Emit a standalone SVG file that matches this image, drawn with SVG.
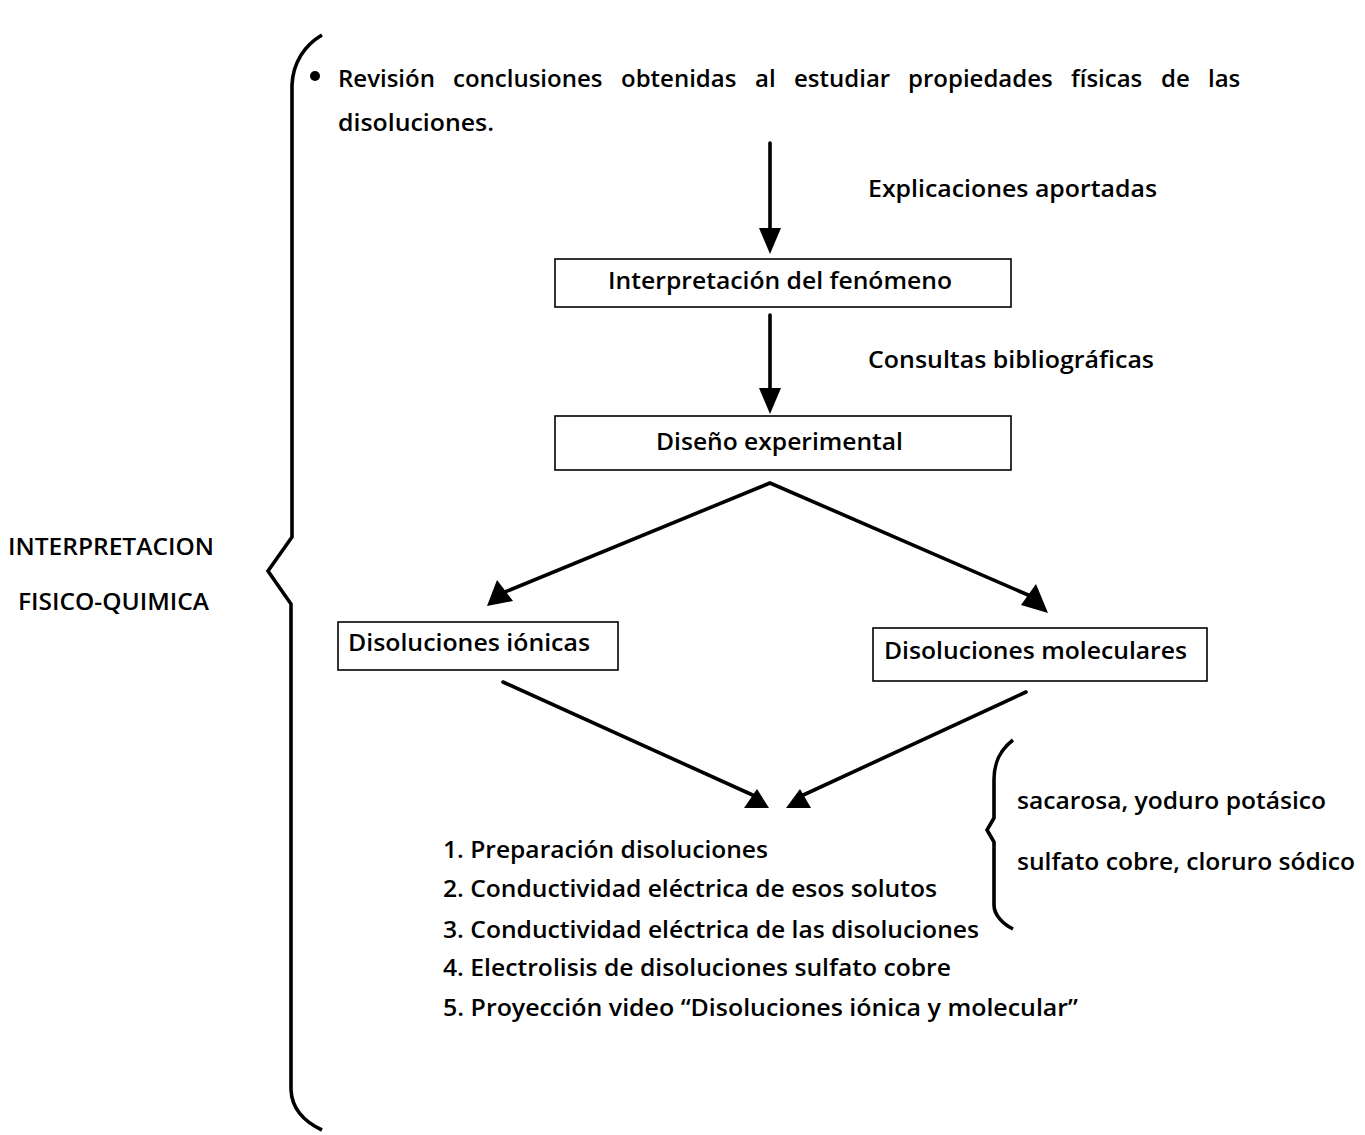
<svg xmlns="http://www.w3.org/2000/svg" width="1365" height="1135" viewBox="0 0 1365 1135">
  <style>
    text { font-family: "Open Sans", "Noto Sans", "Liberation Sans", sans-serif; font-weight: 600; font-size: 22.5px; fill: #000; }
    .lead { font-size: 24px; }
    .box { fill: #fff; stroke: #000; stroke-width: 1.6; }
    .edge { stroke: #000; stroke-width: 3.6; fill: none; stroke-linecap: round; }
    .brace { stroke: #000; stroke-width: 3.6; fill: none; stroke-linejoin: miter; }
    .head { fill: #000; }
  </style>

  <!-- left brace grouping the whole sequence -->
  <g id="main-brace">
    <path class="brace" d="M322,35 C305,45 293,62 292,85 L292,537 L268,571 L291,604 L291,1090 C292,1110 305,1122 322,1130"/>
    <text x="8" y="555" textLength="206" lengthAdjust="spacingAndGlyphs" font-size="20">INTERPRETACION</text>
    <text x="18" y="610" textLength="191" lengthAdjust="spacingAndGlyphs" font-size="20">FISICO-QUIMICA</text>
  </g>

  <!-- opening statement, justified line -->
  <g id="intro">
    <circle cx="315" cy="76" r="5"/>
    <text class="lead" y="87"><tspan x="338">Revisión</tspan> <tspan x="453">conclusiones</tspan> <tspan x="621">obtenidas</tspan> <tspan x="755">al</tspan> <tspan x="794">estudiar</tspan> <tspan x="908">propiedades</tspan> <tspan x="1071">físicas</tspan> <tspan x="1161">de</tspan> <tspan x="1208">las</tspan></text>
    <text class="lead" x="338" y="131" textLength="156" lengthAdjust="spacingAndGlyphs">disoluciones.</text>
  </g>

  <!-- connectors -->
  <g id="connectors">
    <line class="edge" x1="770" y1="143" x2="770" y2="232"/>
    <polygon class="head" points="759,228 781,228 770,254"/>
    <text x="868" y="197" textLength="289" lengthAdjust="spacingAndGlyphs">Explicaciones aportadas</text>

    <line class="edge" x1="770" y1="315" x2="770" y2="392"/>
    <polygon class="head" points="759,388 781,388 770,414"/>
    <text x="868" y="368" textLength="286" lengthAdjust="spacingAndGlyphs">Consultas bibliográficas</text>

    <polyline class="edge" points="500,594 770,483 1035,598"/>
    <polygon class="head" points="487,606 497,580 513,601"/>
    <polygon class="head" points="1048,613 1021,605 1036,584"/>

    <line class="edge" x1="503" y1="682" x2="757" y2="797"/>
    <polygon class="head" points="744,808 769,808 757,789"/>
    <line class="edge" x1="1026" y1="692" x2="799" y2="797"/>
    <polygon class="head" points="786,808 811,808 800,789"/>
  </g>

  <g id="interpretacion">
    <rect class="box" x="555" y="259" width="456" height="48"/>
    <text x="608" y="289" textLength="344" lengthAdjust="spacingAndGlyphs">Interpretación del fenómeno</text>
  </g>

  <g id="diseno">
    <rect class="box" x="555" y="416" width="456" height="54"/>
    <text x="656" y="450" textLength="247" lengthAdjust="spacingAndGlyphs">Diseño experimental</text>
  </g>

  <g id="ionicas">
    <rect class="box" x="338" y="622" width="280" height="48"/>
    <text x="348" y="651" textLength="242" lengthAdjust="spacingAndGlyphs">Disoluciones iónicas</text>
  </g>

  <g id="moleculares">
    <rect class="box" x="873" y="628" width="334" height="53"/>
    <text x="884" y="659" textLength="303" lengthAdjust="spacingAndGlyphs">Disoluciones moleculares</text>
  </g>

  <!-- list of activities -->
  <g id="actividades">
    <text x="443" y="858" textLength="325" lengthAdjust="spacingAndGlyphs">1. Preparación disoluciones</text>
    <text x="443" y="897" textLength="494" lengthAdjust="spacingAndGlyphs">2. Conductividad eléctrica de esos solutos</text>
    <text x="443" y="938" textLength="536" lengthAdjust="spacingAndGlyphs">3. Conductividad eléctrica de las disoluciones</text>
    <text x="443" y="976" textLength="508" lengthAdjust="spacingAndGlyphs">4. Electrolisis de disoluciones sulfato cobre</text>
    <text x="443" y="1016" textLength="635" lengthAdjust="spacingAndGlyphs">5. Proyección video “Disoluciones iónica y molecular”</text>
  </g>

  <!-- solutes used -->
  <g id="solutos">
    <path class="brace" d="M1013,740 C1000,750 994,762 994,780 L994,818 L987,830 L994,842 L994,905 C994,915 1003,924 1013,929"/>
    <text x="1017" y="809" textLength="309" lengthAdjust="spacingAndGlyphs">sacarosa, yoduro potásico</text>
    <text x="1017" y="870" textLength="338" lengthAdjust="spacingAndGlyphs">sulfato cobre, cloruro sódico</text>
  </g>
</svg>
